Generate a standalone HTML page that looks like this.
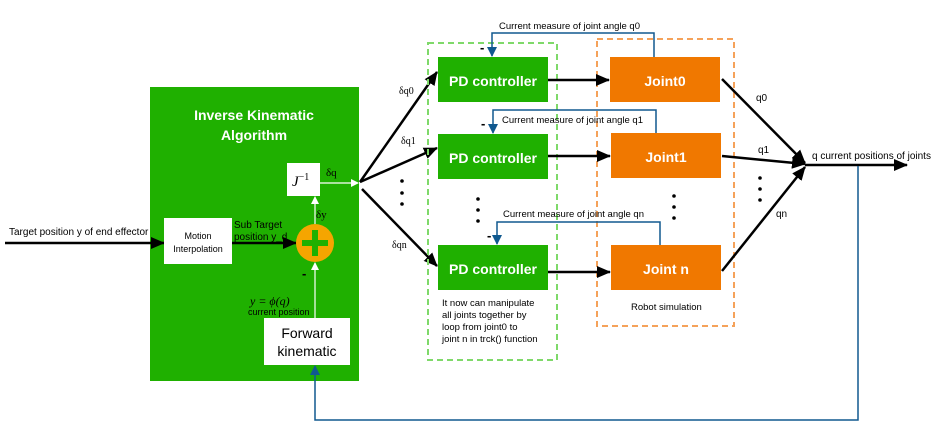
<!DOCTYPE html>
<html><head><meta charset="utf-8"><style>
html,body{margin:0;padding:0;background:#fff;}
svg{display:block;}
text{font-family:"Liberation Sans",sans-serif;}
.s{font-family:"Liberation Serif",serif;}
</style></head><body>
<svg width="938" height="432" viewBox="0 0 938 432" xmlns="http://www.w3.org/2000/svg">
<defs>
<marker id="ab" markerWidth="10" markerHeight="10" refX="9" refY="5" orient="auto" markerUnits="userSpaceOnUse"><path d="M0,0 L10,5 L0,10 z" fill="#000"/></marker>
<marker id="abL" markerWidth="14" markerHeight="12" refX="13" refY="6" orient="auto" markerUnits="userSpaceOnUse"><path d="M0,0 L14,6 L0,12 z" fill="#000"/></marker>
<marker id="aw" markerWidth="8" markerHeight="8" refX="7" refY="4" orient="auto" markerUnits="userSpaceOnUse"><path d="M0,0 L8,4 L0,8 z" fill="#fff"/></marker>
<marker id="ablue" markerWidth="10" markerHeight="10" refX="9" refY="5" orient="auto" markerUnits="userSpaceOnUse"><path d="M0,0 L10,5 L0,10 z" fill="#10598f"/></marker>
</defs>

<rect x="150" y="87" width="209" height="294" fill="#1fb000"/>
<text x="254" y="120" fill="#fff" font-size="14" font-weight="bold" text-anchor="middle">Inverse Kinematic</text>
<text x="254" y="140" fill="#fff" font-size="14" font-weight="bold" text-anchor="middle">Algorithm</text>

<line x1="5" y1="243" x2="164" y2="243" stroke="#000" stroke-width="2.5" marker-end="url(#abL)"/>
<text x="9" y="235" font-size="10">Target position y of end effector</text>

<rect x="164" y="218" width="68" height="46" fill="#fff"/>
<text x="198" y="239" font-size="9" text-anchor="middle">Motion</text>
<text x="198" y="252" font-size="9" text-anchor="middle">Interpolation</text>
<line x1="232" y1="243" x2="296" y2="243" stroke="#000" stroke-width="2.5" marker-end="url(#abL)"/>
<text x="234" y="228" font-size="10">Sub Target</text>
<text x="234" y="240" font-size="10">position y_d</text>

<circle cx="315" cy="243" r="19" fill="#f5a500"/>
<rect x="312" y="230" width="6" height="26" fill="#1fb000"/>
<rect x="302" y="240" width="26" height="6" fill="#1fb000"/>
<line x1="315" y1="224" x2="315" y2="197" stroke="#fff" stroke-width="1.2" marker-end="url(#aw)"/>
<text x="316" y="218" font-size="11" fill="#000" class="s">δy</text>
<line x1="315" y1="318" x2="315" y2="263" stroke="#fff" stroke-width="1.2" marker-end="url(#aw)"/>
<text x="302" y="278" font-size="13" font-weight="bold">-</text>
<text x="250" y="305" font-size="12" font-style="italic" class="s">y = ϕ(q)</text>
<text x="248" y="315" font-size="9">current position</text>

<rect x="287" y="163" width="33" height="33" fill="#fff"/>
<text x="292" y="186" font-size="15" font-style="italic" class="s">J<tspan font-size="10" dy="-6" font-style="normal">−1</tspan></text>
<line x1="320" y1="183" x2="358" y2="183" stroke="#fff" stroke-width="1.2" marker-end="url(#aw)"/>
<text x="326" y="176" font-size="11" class="s">δq</text>

<rect x="264" y="318" width="86" height="47" fill="#fff"/>
<text x="307" y="338" font-size="14" text-anchor="middle">Forward</text>
<text x="307" y="356" font-size="14" text-anchor="middle">kinematic</text>

<g stroke="#000" stroke-width="2.5" fill="none">
<line x1="360" y1="182" x2="437" y2="72" marker-end="url(#abL)"/>
<line x1="360" y1="182" x2="437" y2="148" marker-end="url(#abL)"/>
<line x1="362" y1="189" x2="437" y2="266" marker-end="url(#abL)"/>
</g>
<text x="399" y="94" font-size="10" class="s">δq0</text>
<text x="401" y="144" font-size="10" class="s">δq1</text>
<text x="392" y="248" font-size="10" class="s">δqn</text>
<g fill="#000"><circle cx="402" cy="181" r="1.8"/><circle cx="402" cy="193" r="1.8"/><circle cx="402" cy="204" r="1.8"/></g>

<rect x="428" y="43" width="129" height="317" fill="none" stroke="#7fd96a" stroke-width="2" stroke-dasharray="6,4"/>
<rect x="597" y="39" width="137" height="287" fill="none" stroke="#f5a25a" stroke-width="2" stroke-dasharray="6,4"/>

<g fill="#1fb000"><rect x="438" y="57" width="110" height="45"/><rect x="438" y="134" width="110" height="45"/><rect x="438" y="245" width="110" height="45"/></g>
<g fill="#fff" font-size="14" font-weight="bold" text-anchor="middle">
<text x="493" y="86">PD controller</text><text x="493" y="163">PD controller</text><text x="493" y="274">PD controller</text></g>

<g fill="#f07800"><rect x="610" y="57" width="110" height="45"/><rect x="611" y="133" width="110" height="45"/><rect x="611" y="245" width="110" height="45"/></g>
<g fill="#fff" font-size="14" font-weight="bold" text-anchor="middle">
<text x="665" y="86">Joint0</text><text x="666" y="162">Joint1</text><text x="666" y="274">Joint n</text></g>

<g stroke="#000" stroke-width="2.5">
<line x1="548" y1="80" x2="609" y2="80" marker-end="url(#abL)"/>
<line x1="548" y1="156" x2="610" y2="156" marker-end="url(#abL)"/>
<line x1="548" y1="272" x2="610" y2="272" marker-end="url(#abL)"/>
</g>

<g stroke="#10598f" stroke-width="1.5" fill="none">
<polyline points="654,57 654,33 492,33 492,56" marker-end="url(#ablue)"/>
<polyline points="656,133 656,110 493,110 493,133" marker-end="url(#ablue)"/>
<polyline points="660,245 660,222 497,222 497,244" marker-end="url(#ablue)"/>
</g>
<text x="499" y="29" font-size="9.5">Current measure of joint angle q0</text>
<text x="502" y="123" font-size="9.5">Current measure of joint angle q1</text>
<text x="503" y="217" font-size="9.5">Current measure of joint angle qn</text>
<g font-size="13" font-weight="bold"><text x="480" y="52">-</text><text x="481" y="128">-</text><text x="487" y="240">-</text></g>

<g fill="#000"><circle cx="478" cy="199" r="1.8"/><circle cx="478" cy="210" r="1.8"/><circle cx="478" cy="221" r="1.8"/>
<circle cx="674" cy="196" r="1.8"/><circle cx="674" cy="207" r="1.8"/><circle cx="674" cy="218" r="1.8"/>
<circle cx="760" cy="178" r="1.8"/><circle cx="760" cy="189" r="1.8"/><circle cx="760" cy="200" r="1.8"/></g>

<g font-size="9.5">
<text x="442" y="306">It now can manipulate</text>
<text x="442" y="318">all joints together by</text>
<text x="442" y="330">loop from joint0 to</text>
<text x="442" y="342">joint n in trck() function</text>
<text x="631" y="310">Robot simulation</text>
</g>

<g stroke="#000" stroke-width="2.5">
<line x1="722" y1="79" x2="805" y2="163" marker-end="url(#abL)"/>
<line x1="722" y1="156" x2="805" y2="164" marker-end="url(#abL)"/>
<line x1="722" y1="271" x2="805" y2="167" marker-end="url(#abL)"/>
<line x1="805" y1="165" x2="907" y2="165" marker-end="url(#abL)"/>
</g>
<g font-size="10"><text x="756" y="101">q0</text><text x="758" y="153">q1</text><text x="776" y="217">qn</text>
<text x="812" y="159">q current positions of joints</text></g>

<polyline points="858,166 858,420 315,420 315,366" stroke="#10598f" stroke-width="1.5" fill="none" marker-end="url(#ablue)"/>
</svg>
</body></html>
